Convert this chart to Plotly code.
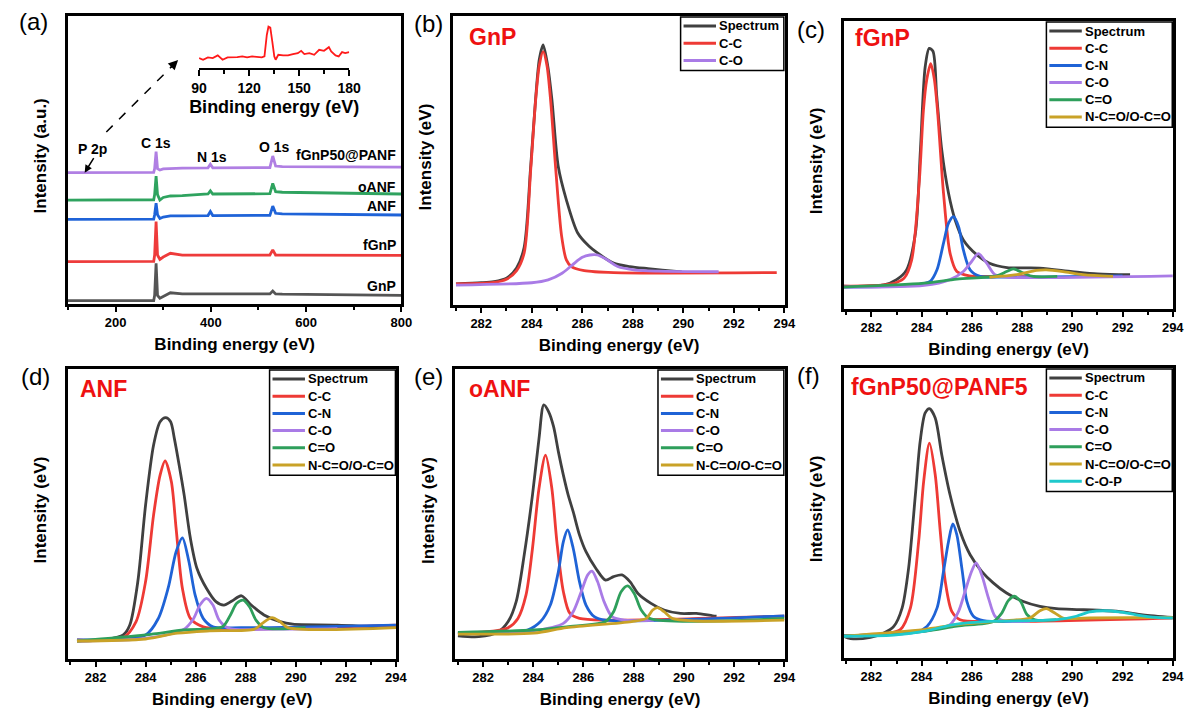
import plotly.graph_objects as go

W, H = 1200, 709

# ---------------- survey spectra (panel a), intensity in % of frame height ----------------
SURVEY_E = [100, 280, 282, 285, 288, 293, 300, 315, 340, 394, 399, 404, 524, 530, 536, 550, 800]
SURVEY_GNP = [1.2, 1.2, 3.0, 14.1, 3.0, 2.0, 2.6, 3.9, 3.5, 3.5, 3.5, 3.5, 3.5, 4.5, 3.5, 3.4, 3.0]
SURVEY_FGNP = [14.7, 14.8, 17.0, 28.6, 17.0, 15.5, 16.3, 17.6, 17.0, 17.0, 17.0, 17.0, 17.0, 18.8, 17.0, 17.0, 16.9]
SURVEY_ANF = [29.4, 29.5, 31.0, 35.0, 31.0, 29.7, 30.2, 30.6, 30.6, 30.7, 32.1, 30.7, 30.8, 34.0, 31.5, 31.3, 30.9]
SURVEY_OANF = [36.1, 36.2, 38.0, 44.4, 38.0, 36.1, 37.0, 37.5, 37.6, 38.2, 39.3, 38.2, 38.3, 41.9, 39.0, 38.8, 38.2]
SURVEY_PANF = [45.6, 45.7, 47.0, 52.9, 47.0, 46.5, 46.9, 47.1, 47.2, 47.3, 48.5, 47.3, 47.4, 51.4, 47.9, 47.7, 47.5]
SURVEY_NAMES = ["GnP", "fGnP", "ANF", "oANF", "fGnP50@PANF"]

# P 2p inset of fGnP50@PANF
INSET_E = [90, 92.4, 95.3, 98.2, 101.2, 104.1, 107.1, 110, 112.9, 115.9, 118.8, 121.8, 124.7, 127.6,
           129.2, 130.6, 131.6, 132.7, 133.9, 135.1, 135.9, 137.5, 140.4, 143.3, 146.3, 149.2, 151.2,
           153.1, 156.1, 159, 162, 164.9, 167.8, 169.2, 171.8, 173.7, 175.7, 177.6, 180]
INSET_I = [30, 25, 32, 30, 38, 25, 32, 32, 33, 35, 32, 35, 33, 32,
           35, 100, 125, 122, 80, 35, 25, 40, 38, 38, 42, 45, 52,
           42, 45, 40, 55, 52, 63, 50, 38, 35, 48, 45, 48]

# ---------------- C 1s fits (panels b-f): (binding energy, intensity %) ----------------
GNP_FIT = {
    "Spectrum": [(281.0, 7.3), (282.0, 7.7), (282.5, 8.1), (283.0, 9.3), (283.4, 12.8), (283.7, 20.0),
                 (283.95, 47.0), (284.15, 71.0), (284.3, 85.0), (284.45, 90.0), (284.64, 82.4),
                 (284.8, 70.9), (285.05, 47.9), (285.37, 36.4), (285.82, 24.9), (286.27, 20.3),
                 (286.6, 18.0), (287.24, 14.5), (287.88, 13.3), (288.6, 12.6), (289.17, 12.1), (289.94, 11.5)],
    "C-C": [(281.0, 7.3), (282.5, 7.8), (283.0, 8.9), (283.4, 11.9), (283.7, 18.0), (283.96, 47.0),
            (284.15, 70.5), (284.3, 83.0), (284.45, 87.7), (284.6, 83.0), (284.75, 70.5), (284.95, 47.0),
            (285.18, 24.0), (285.37, 15.6), (285.57, 13.3), (286.08, 11.9), (287.24, 11.2), (293.7, 11.2)],
    "C-O": [(281.0, 6.9), (284.0, 7.7), (284.65, 8.7), (285.2, 11.0), (285.6, 13.8), (286.0, 16.5),
            (286.3, 17.3), (286.6, 17.3), (287.0, 15.6), (287.4, 13.3), (288.1, 12.1), (289.0, 11.7), (291.4, 11.5)],
}

FGNP_FIT = {
    "Spectrum": [(280.8, 7.9), (282.5, 8.4), (283.0, 10.2), (283.4, 13.6), (283.75, 26.3), (283.95, 55.2),
                 (284.14, 84.1), (284.3, 90.5), (284.45, 89.5), (284.6, 74.0), (284.8, 55.2), (285.07, 40.2),
                 (285.33, 31.0), (285.66, 24.0), (286.2, 18.8), (286.7, 15.9), (287.4, 14.4), (288.7, 14.2),
                 (290.0, 13.0), (291.0, 12.2), (292.3, 11.9)],
    "C-C": [(280.8, 7.9), (282.5, 8.4), (283.0, 9.2), (283.3, 10.7), (283.6, 17.0), (283.9, 43.6),
            (284.07, 69.0), (284.2, 79.5), (284.36, 85.2), (284.5, 80.0), (284.63, 69.0), (284.87, 40.2),
            (285.13, 19.4), (285.4, 13.0), (285.9, 11.5), (286.7, 11.3), (288.5, 11.2)],
    "C-N": [(280.8, 7.6), (283.8, 8.4), (284.34, 9.6), (284.61, 13.6), (284.87, 22.9), (285.07, 29.8),
            (285.27, 32.1), (285.47, 28.6), (285.66, 20.5), (285.93, 13.6), (286.33, 11.3), (287.38, 11.1),
            (292.0, 11.5)],
    "C-O": [(280.8, 7.6), (284.1, 8.2), (285.13, 10.2), (285.66, 13.0), (285.99, 16.5), (286.26, 19.2),
            (286.59, 15.9), (286.92, 11.9), (287.38, 11.1), (294.0, 11.5)],
    "C=O": [(280.8, 7.6), (284.1, 9.0), (285.4, 10.4), (286.99, 11.5), (287.38, 13.0), (287.65, 13.9),
            (288.05, 12.5), (288.44, 11.3), (289.4, 11.3)],
    "N-C=O/O-C=O": [(286.7, 11.0), (287.78, 11.9), (288.57, 13.4), (288.97, 13.6), (289.63, 13.0),
                    (290.43, 11.9), (291.62, 11.3)],
}

ANF_FIT = {
    "Spectrum": [(281.26, 6.2), (282.5, 6.8), (283.11, 8.3), (283.37, 11.7), (283.69, 26.7), (284.0, 53.1),
                 (284.32, 73.8), (284.58, 81.8), (284.8, 83.2), (285.0, 81.8), (285.15, 76.0), (285.34, 66.9),
                 (285.54, 56.6), (285.79, 41.6), (286.05, 31.3), (286.43, 24.4), (286.81, 19.8), (287.13, 18.6),
                 (287.45, 20.0), (287.83, 21.8), (288.22, 18.6), (288.73, 15.2), (289.37, 12.9), (289.88, 12.0),
                 (291.66, 11.7), (294.0, 10.8)],
    "C-C": [(281.26, 6.6), (283.11, 7.4), (283.62, 12.9), (284.0, 26.7), (284.32, 49.7), (284.58, 63.4),
            (284.78, 68.3), (285.03, 61.1), (285.22, 45.0), (285.47, 24.4), (285.79, 14.0), (286.3, 11.1),
            (287.2, 10.3), (294.0, 11.7)],
    "C-N": [(281.26, 6.6), (284.0, 8.3), (284.51, 14.0), (284.9, 24.4), (285.22, 37.0), (285.47, 41.8),
            (285.73, 33.6), (285.98, 22.0), (286.3, 14.0), (286.69, 11.1), (287.83, 10.8), (294.0, 11.7)],
    "C-O": [(281.26, 6.2), (284.0, 7.1), (285.54, 10.3), (285.92, 14.0), (286.17, 18.6), (286.43, 20.9),
            (286.69, 18.6), (286.94, 13.4), (287.32, 10.6), (289.11, 10.3), (291.66, 10.5)],
    "C=O": [(281.26, 6.2), (284.0, 8.3), (285.54, 10.0), (287.07, 11.1), (287.39, 15.2), (287.64, 19.2),
            (287.9, 20.3), (288.15, 18.0), (288.41, 13.4), (288.73, 10.8), (290.39, 10.8)],
    "N-C=O/O-C=O": [(281.26, 6.2), (284.0, 6.9), (285.28, 8.9), (286.56, 9.7), (288.35, 10.3), (288.66, 12.3),
                    (289.05, 14.3), (289.37, 12.9), (289.69, 10.8), (294.0, 10.8)],
}

OANF_FIT = {
    "Spectrum": [(281.0, 8.0), (281.83, 7.7), (282.61, 9.4), (283.0, 12.9), (283.32, 19.8), (283.64, 35.9),
                 (283.97, 56.6), (284.23, 76.1), (284.42, 87.6), (284.61, 85.3), (284.81, 80.1), (285.0, 71.5),
                 (285.2, 63.4), (285.39, 56.6), (285.59, 50.8), (285.84, 42.8), (286.1, 37.0), (286.49, 31.3),
                 (286.88, 27.2), (287.2, 28.4), (287.53, 29.0), (287.85, 26.7), (288.17, 22.6), (288.69, 19.2),
                 (289.21, 16.9), (289.86, 15.7), (290.5, 15.7), (291.15, 14.9), (291.3, 14.8)],
    "C-C": [(281.0, 8.9), (282.48, 9.7), (283.0, 10.8), (283.39, 14.0), (283.71, 22.0), (283.97, 38.2),
            (284.23, 58.9), (284.49, 70.3), (284.74, 58.9), (284.94, 40.5), (285.2, 23.2), (285.46, 15.7),
            (285.84, 14.0), (286.88, 13.4), (294.0, 14.8)],
    "C-N": [(281.0, 8.9), (283.77, 10.0), (284.29, 12.9), (284.68, 18.6), (285.0, 30.1), (285.2, 40.5),
            (285.37, 44.5), (285.59, 38.2), (285.84, 26.7), (286.1, 18.6), (286.43, 14.6), (286.88, 13.4),
            (294.0, 14.9)],
    "C-O": [(281.0, 8.9), (284.03, 9.8), (285.2, 12.3), (285.59, 16.3), (285.91, 23.2), (286.17, 29.0),
            (286.34, 30.3), (286.56, 26.7), (286.82, 19.8), (287.14, 14.6), (287.66, 13.4), (288.8, 13.3)],
    "C=O": [(281.0, 9.2), (284.03, 10.0), (285.33, 11.1), (286.88, 12.9), (287.2, 16.3), (287.5, 23.2),
            (287.76, 25.2), (288.02, 22.6), (288.3, 16.9), (288.63, 14.0), (294.0, 14.0)],
    "N-C=O/O-C=O": [(281.0, 8.6), (284.03, 8.9), (285.33, 10.8), (287.92, 12.9), (288.5, 14.0), (288.76, 16.9),
                    (288.95, 17.7), (289.21, 16.3), (289.53, 14.0), (290.5, 13.1), (294.0, 13.4)],
}

PANF_FIT = {
    "Spectrum": [(280.77, 8.0), (281.17, 6.7), (281.96, 7.1), (282.49, 8.6), (282.89, 10.9), (283.22, 17.2),
                 (283.48, 31.0), (283.75, 56.3), (283.94, 74.7), (284.14, 84.5), (284.31, 86.0), (284.54, 82.8),
                 (284.8, 70.1), (285.13, 56.3), (285.53, 43.7), (285.93, 35.6), (286.39, 29.9), (286.85, 25.9),
                 (287.38, 22.4), (288.05, 19.5), (288.71, 17.8), (289.37, 17.0), (290.29, 16.7), (291.35, 16.3),
                 (292.01, 15.9), (292.81, 14.9), (294.0, 14.0)],
    "C-C": [(280.77, 7.7), (282.49, 8.3), (283.15, 9.8), (283.55, 17.2), (283.88, 40.2), (284.08, 60.9),
            (284.31, 74.1), (284.54, 63.2), (284.74, 43.7), (284.94, 26.4), (285.2, 16.1), (285.53, 13.2),
            (286.72, 12.6), (294.0, 13.8)],
    "C-N": [(280.77, 7.7), (283.81, 9.0), (284.21, 10.9), (284.61, 17.2), (284.87, 29.9), (285.07, 40.2),
            (285.24, 46.2), (285.4, 42.5), (285.6, 31.0), (285.8, 19.5), (286.06, 14.4), (286.46, 12.9),
            (288.05, 12.6)],
    "C-O": [(280.77, 7.5), (284.08, 9.2), (285.13, 11.5), (285.47, 16.1), (285.73, 23.0), (285.99, 29.9),
            (286.17, 32.8), (286.39, 28.7), (286.66, 20.7), (286.92, 14.4), (287.25, 12.9), (288.31, 12.6)],
    "C=O": [(280.77, 7.5), (284.08, 9.2), (285.4, 11.0), (286.85, 12.6), (287.19, 15.5), (287.45, 19.8),
            (287.69, 21.3), (287.94, 19.5), (288.2, 14.9), (288.51, 13.2), (289.37, 13.2)],
    "N-C=O/O-C=O": [(280.77, 7.5), (284.08, 9.8), (285.4, 11.5), (287.38, 12.9), (288.31, 13.8), (288.71, 16.3),
                    (288.97, 17.0), (289.3, 15.5), (289.63, 13.8), (290.69, 13.8), (294.0, 14.0)],
    "C-O-P": [(280.77, 7.5), (282.89, 7.9), (284.08, 9.2), (285.4, 11.7), (286.72, 12.6), (289.37, 13.2),
              (290.16, 14.4), (290.69, 15.9), (291.29, 16.3), (291.88, 15.9), (292.54, 14.9), (293.34, 14.0),
              (294.0, 13.8)],
}

# ---------------- styling ----------------
FONT = "Liberation Sans, Arial, sans-serif"
SURVEY_COLORS = {"GnP": "#555555", "fGnP": "#ee3b3b", "ANF": "#1f63d8",
                 "oANF": "#2fa35f", "fGnP50@PANF": "#b07fe3"}
FIT_COLORS = {"Spectrum": "#404040", "C-C": "#ee3a35", "C-N": "#1f63d6", "C-O": "#a97be6",
              "C=O": "#2e9f5b", "N-C=O/O-C=O": "#c9a227", "C-O-P": "#1fc9cc"}

# frame boxes in pixels: left, top, right, bottom
FRAMES = {
    "a": (61, 16, 400, 304),
    "b": (453, 16, 790, 305),
    "c": (850, 21, 1185, 309),
    "d": (61, 369, 395, 659),
    "e": (455, 369, 790, 659),
    "f": (850, 368, 1185, 658),
}


def px(x):
    return x / W


def py(y):
    return 1 - y / H


fig = go.Figure()
layout = dict(width=W, height=H, margin=dict(l=0, r=0, t=0, b=0), showlegend=False,
              paper_bgcolor="white", plot_bgcolor="rgba(0,0,0,0)",
              font=dict(family=FONT, color="black"))
shapes, annots = [], []


def axis_names(n):
    return ("x" if n == 1 else f"x{n}"), ("y" if n == 1 else f"y{n}")


def frame_axes(n, key, xrange, dtick, tick0, minor_dtick):
    l, t, r, b = FRAMES[key]
    xn, yn = axis_names(n)
    layout["xaxis" if n == 1 else f"xaxis{n}"] = dict(
        domain=[px(l), px(r)], range=xrange, anchor=yn,
        showline=True, linewidth=2.5, linecolor="black", mirror=True,
        ticks="outside", ticklen=5, tickwidth=2, tickcolor="black",
        dtick=dtick, tick0=tick0,
        minor=dict(ticks="outside", ticklen=3, tickwidth=1.5, dtick=minor_dtick, tickcolor="black"),
        showgrid=False, zeroline=False,
        tickfont=dict(size=13, weight="bold", family=FONT),
        title=dict(text="Binding energy (eV)", font=dict(size=17, weight="bold", family=FONT), standoff=9),
    )
    layout["yaxis" if n == 1 else f"yaxis{n}"] = dict(
        domain=[py(b), py(t)], range=[0, 100], anchor=xn,
        showline=True, linewidth=2.5, linecolor="black", mirror=True,
        showticklabels=False, ticks="", showgrid=False, zeroline=False,
    )
    return xn, yn


def y_title(key, text):
    l, t, r, b = FRAMES[key]
    annots.append(dict(text=text, x=px(l - 28), y=py((t + b) / 2 - 4), xref="paper", yref="paper",
                       textangle=-90, showarrow=False, xanchor="center", yanchor="middle",
                       font=dict(size=17, weight="bold", family=FONT)))


def panel_letter(text, x, yc):
    annots.append(dict(text=text, x=px(x), y=py(yc), xref="paper", yref="paper", showarrow=False,
                       xanchor="left", yanchor="middle", font=dict(size=24, family=FONT)))


def sample_label(text, x, yc):
    annots.append(dict(text=text, x=px(x), y=py(yc), xref="paper", yref="paper", showarrow=False,
                       xanchor="left", yanchor="middle",
                       font=dict(size=23, weight="bold", color="#ee1111", family=FONT)))


def legend_box(key, labels, width):
    l, t, r, b = FRAMES[key]
    step = 17.2
    x0, y0 = r - width, t + 1
    y1 = y0 + len(labels) * step + 2
    shapes.append(dict(type="rect", xref="paper", yref="paper", x0=px(x0), x1=px(r - 1),
                       y0=py(y0), y1=py(y1), line=dict(color="black", width=1.5)))
    for i, lab in enumerate(labels):
        yc = y0 + 9 + i * step
        shapes.append(dict(type="line", xref="paper", yref="paper", x0=px(x0 + 3), x1=px(x0 + 36),
                           y0=py(yc), y1=py(yc), line=dict(color=FIT_COLORS[lab], width=3)))
        annots.append(dict(text=lab, x=px(x0 + 37), y=py(yc), xref="paper", yref="paper",
                           showarrow=False, xanchor="left", yanchor="middle",
                           font=dict(size=13, weight="bold", family=FONT)))


# ---------------- panel (a): survey ----------------
xa, ya = frame_axes(1, "a", [100, 800], 200, 200, 100)
for name, vals in zip(SURVEY_NAMES, [SURVEY_GNP, SURVEY_FGNP, SURVEY_ANF, SURVEY_OANF, SURVEY_PANF]):
    fig.add_trace(go.Scatter(x=SURVEY_E, y=vals, mode="lines", name=name, xaxis=xa, yaxis=ya,
                             line=dict(color=SURVEY_COLORS[name], width=2.8)))
y_title("a", "Intensity (a.u.)")
panel_letter("(a)", 9, 22)

for text, xc, yc in [("P 2p", 86, 149), ("C 1s", 151, 143), ("N 1s", 207, 157), ("O 1s", 271, 147)]:
    annots.append(dict(text=text, x=px(xc), y=py(yc), xref="paper", yref="paper", showarrow=False,
                       xanchor="center", yanchor="middle", font=dict(size=14, weight="bold", family=FONT)))
for text, yc in [("fGnP50@PANF", 155), ("oANF", 187), ("ANF", 206), ("fGnP", 245), ("GnP", 286)]:
    annots.append(dict(text=text, x=px(397), y=py(yc), xref="paper", yref="paper", showarrow=False,
                       xanchor="right", yanchor="middle", font=dict(size=14, weight="bold", family=FONT)))

# arrow marking P 2p on the fGnP50@PANF survey
annots.append(dict(text="", x=135, y=SURVEY_PANF[0], xref=xa, yref=ya, ax=10, ay=-16,
                   showarrow=True, arrowhead=2, arrowsize=1, arrowwidth=1.5, arrowcolor="black"))
# dashed pointer towards the inset
shapes.append(dict(type="line", xref="paper", yref="paper", x0=px(100), y0=py(132), x1=px(167), y1=py(66),
                   line=dict(color="black", width=1.5, dash="dash")))
annots.append(dict(text="", x=px(173), y=py(60), xref="paper", yref="paper", ax=-9, ay=9,
                   showarrow=True, arrowhead=2, arrowsize=1.3, arrowwidth=1.5, arrowcolor="black"))

# inset: P 2p region
layout["xaxis7"] = dict(domain=[px(194.3), px(347)], range=[90, 180], anchor="y7",
                        showline=True, linewidth=2, linecolor="black", mirror=False,
                        ticks="outside", ticklen=6, tickwidth=2, tickcolor="black", dtick=30, tick0=90,
                        minor=dict(ticks="outside", ticklen=4, tickwidth=1.5, dtick=15, tickcolor="black"),
                        showgrid=False, zeroline=False,
                        tickfont=dict(size=14, weight="bold", family=FONT),
                        title=dict(text="Binding energy (eV)", font=dict(size=18, weight="bold", family=FONT),
                                   standoff=6))
layout["yaxis7"] = dict(domain=[py(68), py(23.4)], range=[0, 135], anchor="x7", visible=False)
fig.add_trace(go.Scatter(x=INSET_E, y=INSET_I, mode="lines", xaxis="x7", yaxis="y7",
                         line=dict(color="#ff1a1a", width=1.8)))

# ---------------- panels (b)-(f): C 1s fits ----------------
FIT_PANELS = [
    (2, "b", GNP_FIT, "GnP", 453 - 42, 467, 37, 106),
    (3, "c", FGNP_FIT, "fGnP", 800, 859, 38, 129),
    (4, "d", ANF_FIT, "ANF", 11, 71, 389, 129),
    (5, "e", OANF_FIT, "oANF", 411, 467, 389, 129),
    (6, "f", PANF_FIT, "fGnP50@PANF5", 800, 855, 387, 129),
]
for n, key, data, sample, letter_x, sx, sy, lw in FIT_PANELS:
    xn, yn = frame_axes(n, key, [280.9, 294.02], 2, 282, 1)
    for lab, pts in data.items():
        fig.add_trace(go.Scatter(x=[p[0] for p in pts], y=[p[1] for p in pts], mode="lines", name=lab,
                                 xaxis=xn, yaxis=yn,
                                 line=dict(color=FIT_COLORS[lab], width=2.8, shape="spline", smoothing=0.8)))
    y_title(key, "Intensity (eV)")
    panel_letter(f"({key})", letter_x, FRAMES[key][1] + 8)
    sample_label(sample, sx, sy)
    legend_box(key, list(data.keys()), lw)

layout["shapes"] = shapes
layout["annotations"] = annots
fig.update_layout(**layout)
fig.write_html("out.html")
